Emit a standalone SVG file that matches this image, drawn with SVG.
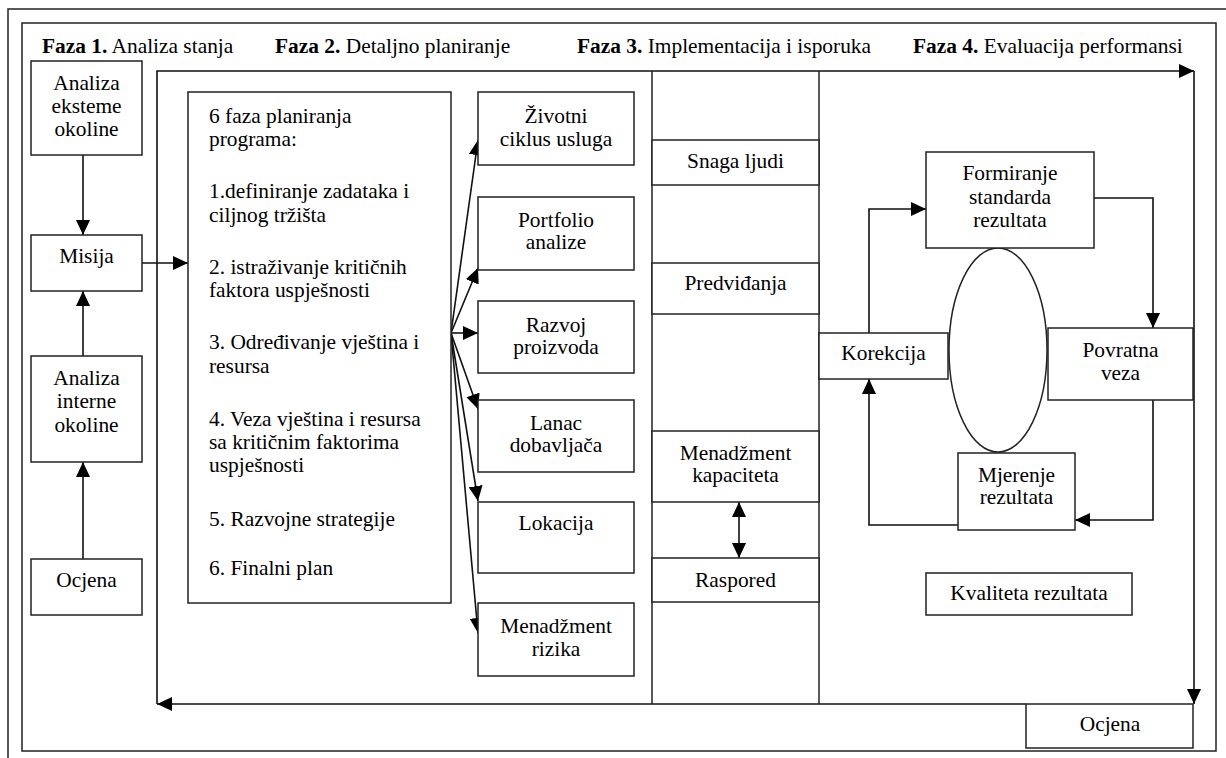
<svg xmlns="http://www.w3.org/2000/svg" width="1226" height="758" viewBox="0 0 1226 758">
<style>
  .t{font-family:"Liberation Serif","Times New Roman",serif;font-size:21.4px;fill:#000}
  .c{text-anchor:middle}
  .b{font-weight:bold}
  .box{fill:#fff;stroke:#222;stroke-width:1.5}
  .ln{fill:none;stroke:#222;stroke-width:1.5}
  .ar{fill:none;stroke:#111;stroke-width:1.6}
</style>
<defs>
  <marker id="ah" viewBox="0 0 15 14" refX="15" refY="7" markerWidth="15" markerHeight="14" markerUnits="userSpaceOnUse" orient="auto-start-reverse">
    <path d="M0,0 L15,7 L0,14 z" fill="#000"/>
  </marker>
</defs>
<rect x="0" y="0" width="1226" height="758" fill="#fff"/>
<g id="frame">
  <path class="ln" d="M8,758 V9 H1226" stroke-width="2"/>
  <rect class="ln" x="22" y="23" width="1194" height="728"/>
</g>
<g id="headers" class="t">
  <text x="42" y="53"><tspan class="b">Faza 1.</tspan> Analiza stanja</text>
  <text x="275" y="53"><tspan class="b">Faza 2.</tspan> Detaljno planiranje</text>
  <text x="577" y="53"><tspan class="b">Faza 3.</tspan> Implementacija i isporuka</text>
  <text x="913" y="53"><tspan class="b">Faza 4.</tspan> Evaluacija performansi</text>
</g>
<g id="connectors">
  <line class="ar" x1="83" y1="155" x2="83" y2="235" marker-end="url(#ah)"/>
  <line class="ar" x1="83" y1="356" x2="83" y2="291" marker-end="url(#ah)"/>
  <line class="ar" x1="83" y1="559" x2="83" y2="462" marker-end="url(#ah)"/>
  <line class="ar" x1="142" y1="263" x2="188" y2="263" marker-end="url(#ah)"/>
  <path class="ar" d="M157,704 V71 H1194" marker-end="url(#ah)"/>
  <line class="ar" x1="1194" y1="71" x2="1194" y2="704" marker-end="url(#ah)"/>
  <line class="ar" x1="1026" y1="704" x2="157" y2="704" marker-end="url(#ah)"/>
  <line class="ar" x1="451" y1="333" x2="478" y2="140" marker-end="url(#ah)"/>
  <line class="ar" x1="451" y1="333" x2="478" y2="268" marker-end="url(#ah)"/>
  <line class="ar" x1="451" y1="333" x2="478" y2="333" marker-end="url(#ah)"/>
  <line class="ar" x1="451" y1="333" x2="478" y2="409" marker-end="url(#ah)"/>
  <line class="ar" x1="451" y1="333" x2="478" y2="501" marker-end="url(#ah)"/>
  <line class="ar" x1="451" y1="333" x2="478" y2="633" marker-end="url(#ah)"/>
  <line class="ar" x1="739" y1="502" x2="739" y2="558" marker-start="url(#ah)" marker-end="url(#ah)"/>
  <path class="ar" d="M1094,198 H1153 V328" marker-end="url(#ah)"/>
  <path class="ar" d="M1153,400 V520 H1075" marker-end="url(#ah)"/>
  <path class="ar" d="M958,525 H869 V379" marker-end="url(#ah)"/>
  <path class="ar" d="M869,333 V209 H926" marker-end="url(#ah)"/>
</g>
<g id="faza3-column">
  <line class="ln" x1="652" y1="71" x2="652" y2="704"/>
  <line class="ln" x1="819" y1="71" x2="819" y2="704"/>
</g>
<g id="n-analiza-eksterne"><rect class="box" x="31" y="61" width="111" height="94"/>
  <text class="t c" x="86.5" y="90">Analiza</text><text class="t c" x="86.5" y="113">eksteme</text><text class="t c" x="86.5" y="136">okoline</text></g>
<g id="n-misija"><rect class="box" x="31" y="235" width="111" height="56"/>
  <text class="t c" x="86.5" y="263">Misija</text></g>
<g id="n-analiza-interne"><rect class="box" x="31" y="356" width="111" height="106"/>
  <text class="t c" x="86.5" y="385">Analiza</text><text class="t c" x="86.5" y="408">interne</text><text class="t c" x="86.5" y="432">okoline</text></g>
<g id="n-ocjena-1"><rect class="box" x="31" y="559" width="111" height="56"/>
  <text class="t c" x="86.5" y="587">Ocjena</text></g>
<g id="n-6faza"><rect class="box" x="188" y="92" width="263" height="511"/>
  <g class="t">
  <text x="209" y="123">6 faza planiranja</text>
  <text x="209" y="146">programa:</text>
  <text x="209" y="198">1.definiranje zadataka i</text>
  <text x="209" y="222">ciljnog tržišta</text>
  <text x="209" y="274">2. istraživanje kritičnih</text>
  <text x="209" y="297">faktora uspješnosti</text>
  <text x="209" y="349">3. Određivanje vještina i</text>
  <text x="209" y="373">resursa</text>
  <text x="209" y="426">4. Veza vještina i resursa</text>
  <text x="209" y="449">sa kritičnim faktorima</text>
  <text x="209" y="472">uspješnosti</text>
  <text x="209" y="526">5. Razvojne strategije</text>
  <text x="209" y="575">6. Finalni plan</text>
  </g></g>
<g id="n-zivotni"><rect class="box" x="478" y="92" width="156" height="73"/>
  <text class="t c" x="556" y="123">Životni</text><text class="t c" x="556" y="146">ciklus usluga</text></g>
<g id="n-portfolio"><rect class="box" x="478" y="197" width="156" height="73"/>
  <text class="t c" x="556" y="227">Portfolio</text><text class="t c" x="556" y="249">analize</text></g>
<g id="n-razvoj"><rect class="box" x="478" y="301" width="156" height="72"/>
  <text class="t c" x="556" y="332">Razvoj</text><text class="t c" x="556" y="354">proizvoda</text></g>
<g id="n-lanac"><rect class="box" x="478" y="400" width="156" height="72"/>
  <text class="t c" x="556" y="430">Lanac</text><text class="t c" x="556" y="452">dobavljača</text></g>
<g id="n-lokacija"><rect class="box" x="478" y="502" width="156" height="71"/>
  <text class="t c" x="556" y="530">Lokacija</text></g>
<g id="n-rizik"><rect class="box" x="478" y="603" width="156" height="73"/>
  <text class="t c" x="556" y="633">Menadžment</text><text class="t c" x="556" y="656">rizika</text></g>
<g id="n-snaga"><rect class="box" x="652" y="140" width="167" height="45"/>
  <text class="t c" x="735.5" y="168">Snaga ljudi</text></g>
<g id="n-predvidanja"><rect class="box" x="652" y="263" width="167" height="51"/>
  <text class="t c" x="735.5" y="290">Predviđanja</text></g>
<g id="n-kapacitet"><rect class="box" x="652" y="431" width="167" height="71"/>
  <text class="t c" x="735.5" y="460">Menadžment</text><text class="t c" x="735.5" y="482">kapaciteta</text></g>
<g id="n-raspored"><rect class="box" x="652" y="558" width="167" height="44"/>
  <text class="t c" x="735.5" y="587">Raspored</text></g>
<g id="n-elipsa"><ellipse class="ln" cx="998" cy="350" rx="49" ry="102"/></g>
<g id="n-formiranje"><rect class="box" x="926" y="152" width="168" height="96"/>
  <text class="t c" x="1010" y="180">Formiranje</text><text class="t c" x="1010" y="204">standarda</text><text class="t c" x="1010" y="227">rezultata</text></g>
<g id="n-korekcija"><rect class="box" x="819" y="333" width="129" height="46"/>
  <text class="t c" x="883.5" y="360">Korekcija</text></g>
<g id="n-povratna"><rect class="box" x="1048" y="328" width="145" height="72"/>
  <text class="t c" x="1120.5" y="357">Povratna</text><text class="t c" x="1120.5" y="380">veza</text></g>
<g id="n-mjerenje"><rect class="box" x="958" y="453" width="117" height="77"/>
  <text class="t c" x="1016.5" y="482">Mjerenje</text><text class="t c" x="1016.5" y="504">rezultata</text></g>
<g id="n-kvaliteta"><rect class="box" x="926" y="573" width="206" height="42"/>
  <text class="t c" x="1029" y="600">Kvaliteta rezultata</text></g>
<g id="n-ocjena-2"><rect class="box" x="1026" y="704" width="167" height="44"/>
  <text class="t c" x="1110" y="731">Ocjena</text></g>
</svg>
